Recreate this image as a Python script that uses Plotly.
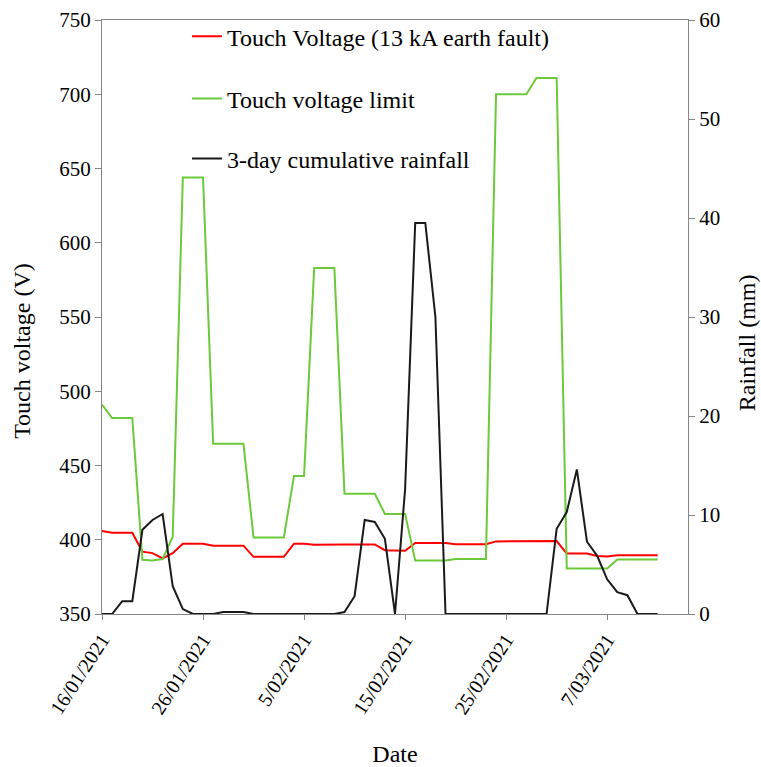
import pandas as pd
import plotly.graph_objects as go

# ---- data ----
start_date = "2021-01-16"
n_days = 56
dates = pd.date_range(start_date, periods=n_days, freq="D")

touch_voltage = [405.9, 404.7, 404.7, 404.7, 392, 391, 387.4, 391, 397.3, 397.3,
                 397.3, 396, 396, 396, 396, 388.5, 388.5, 388.5, 388.5, 397.3,
                 397.3, 396.6, 396.8, 396.8, 396.8, 396.8, 396.8, 396.8, 393, 392.6,
                 392.6, 397.8, 397.8, 397.8, 397.8, 397, 397, 397, 397, 398.9,
                 398.9, 398.9, 398.9, 398.9, 399.1, 399.1, 390.7, 390.7, 390.7, 389,
                 388.8, 389.5, 389.5, 389.5, 389.5, 389.5]

touch_limit = [491, 482, 482, 482, 386.5, 386, 387, 402, 644, 644,
               644, 464.7, 464.7, 464.7, 464.7, 401.5, 401.5, 401.5, 401.5, 443,
               443, 583, 583, 583, 431, 431, 431, 431, 417.4, 417.4,
               417.4, 386, 386, 386, 386, 387, 387, 387, 387, 700,
               700, 700, 700, 711, 711, 711, 380.6, 380.6, 380.6, 380.6,
               380.6, 386.7, 386.7, 386.7, 386.7, 386.7]

rainfall_3day = [0, 0, 1.3, 1.3, 8.5, 9.5, 10.1, 2.8, 0.5, 0,
                 0, 0, 0.2, 0.2, 0.2, 0, 0, 0, 0, 0,
                 0, 0, 0, 0, 0.2, 1.8, 9.5, 9.3, 7.6, 0,
                 12.6, 39.5, 39.5, 30, 0, 0, 0, 0, 0, 0,
                 0, 0, 0, 0, 0, 8.6, 10.3, 14.6, 7.3, 5.9,
                 3.5, 2.2, 1.9, 0, 0, 0]

tick_dates = ["2021-01-16", "2021-01-26", "2021-02-05", "2021-02-15", "2021-02-25", "2021-03-07"]
tick_labels = ["16/01/2021", "26/01/2021", "5/02/2021", "15/02/2021", "25/02/2021", "7/03/2021"]
x_range = ["2021-01-16", "2021-03-15"]
y_left_ticks = [350, 400, 450, 500, 550, 600, 650, 700, 750]
y_right_ticks = [0, 10, 20, 30, 40, 50, 60]

FONT = "Liberation Serif"
AXIS_COLOR = "#868686"
TITLE_SIZE = 24

fig = go.Figure()
fig.add_trace(go.Scatter(x=dates, y=touch_voltage, mode="lines",
                         name="Touch Voltage (13 kA earth fault)",
                         line=dict(color="#ff0000", width=2), legend="legend"))
fig.add_trace(go.Scatter(x=dates, y=touch_limit, mode="lines",
                         name="Touch voltage limit",
                         line=dict(color="#6cc93a", width=2), legend="legend2"))
fig.add_trace(go.Scatter(x=dates, y=rainfall_3day, mode="lines",
                         name="3-day cumulative rainfall", yaxis="y2",
                         line=dict(color="#1a1a1a", width=2), legend="legend3"))

leg_common = dict(font=dict(family=FONT, size=TITLE_SIZE, color="black"),
                  bgcolor="rgba(0,0,0,0)", xanchor="left", yanchor="middle",
                  itemwidth=30, visible=True)

fig.update_layout(
    width=761, height=767,
    showlegend=True,
    margin=dict(l=102, r=73, t=20, b=153, autoexpand=False),
    paper_bgcolor="white", plot_bgcolor="white",
    font=dict(family=FONT, size=21, color="black"),
    legend=dict(x=0.145, y=0.972, **leg_common),
    legend2=dict(x=0.145, y=0.867, **leg_common),
    legend3=dict(x=0.145, y=0.766, **leg_common),
    xaxis=dict(
        range=x_range, tickvals=tick_dates, ticktext=tick_labels, tickangle=-57,
        showline=True, linecolor=AXIS_COLOR, linewidth=1.3, mirror=True,
        ticks="outside", ticklen=5, tickcolor=AXIS_COLOR,
        showgrid=False, zeroline=False, automargin=False,
        tickfont=dict(family=FONT, size=20),
        title=dict(text="Date", font=dict(family=FONT, size=TITLE_SIZE), standoff=28),
    ),
    yaxis=dict(
        range=[350, 750], tickvals=y_left_ticks,
        showline=True, linecolor=AXIS_COLOR, linewidth=1.3,
        ticks="outside", ticklen=6, tickcolor=AXIS_COLOR,
        showgrid=False, zeroline=False, automargin=False,
        tickfont=dict(family=FONT, size=21),
    ),
    yaxis2=dict(
        range=[0, 60], tickvals=y_right_ticks, overlaying="y", side="right",
        showline=True, linecolor=AXIS_COLOR, linewidth=1.3,
        ticks="outside", ticklen=6, tickcolor=AXIS_COLOR,
        showgrid=False, zeroline=False, automargin=False,
        tickfont=dict(family=FONT, size=21),
    ),
    annotations=[
        dict(text="Touch voltage (V)", xref="paper", yref="paper", x=-0.1365, y=0.443,
             textangle=-90, showarrow=False, xanchor="center", yanchor="middle",
             font=dict(family=FONT, size=TITLE_SIZE, color="black")),
        dict(text="Rainfall (mm)", xref="paper", yref="paper", x=1.1007, y=0.456,
             textangle=-90, showarrow=False, xanchor="center", yanchor="middle",
             font=dict(family=FONT, size=TITLE_SIZE, color="black")),
    ],
)

fig.write_html("out.html")
